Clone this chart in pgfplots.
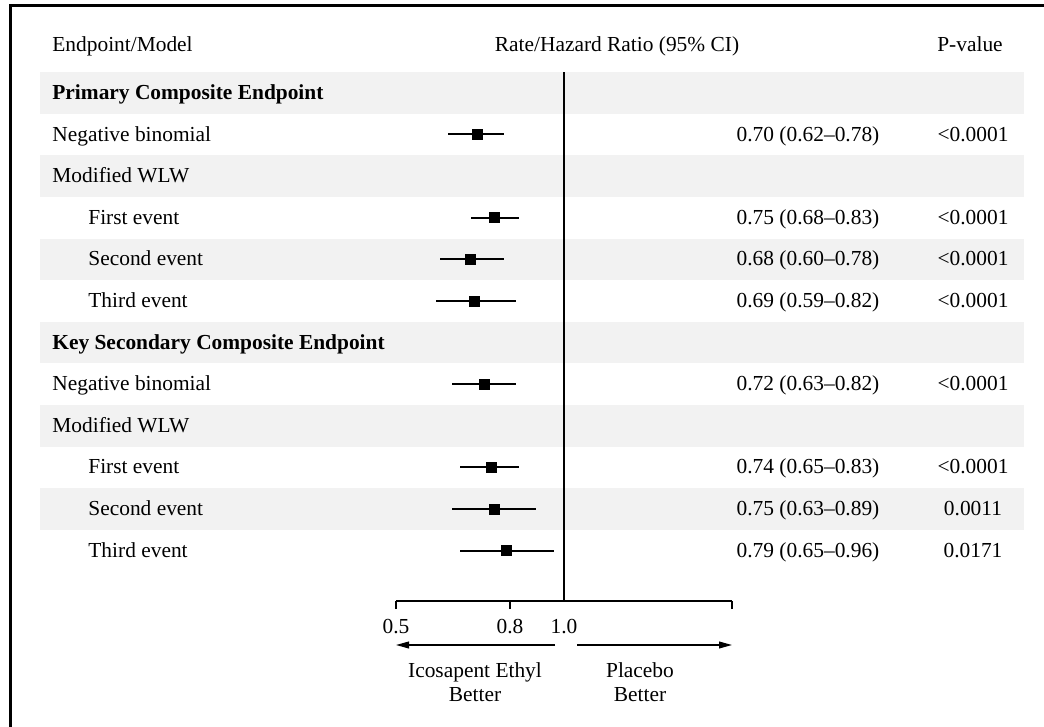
\documentclass[border=0pt]{standalone}
\usepackage{pgfplots}
\pgfplotsset{compat=1.18}
\usepackage{pgfplotstable}
\usepackage{fontspec}
\setmainfont{Liberation Serif}
\usetikzlibrary{arrows.meta}
\definecolor{bandgray}{RGB}{242,242,242}

\pgfplotstableread{
row est lo hi
2 0.70 0.62 0.78
4 0.75 0.68 0.83
5 0.68 0.60 0.78
6 0.69 0.59 0.82
8 0.72 0.63 0.82
10 0.74 0.65 0.83
11 0.75 0.63 0.89
12 0.79 0.65 0.96
}\forestdata

\begin{document}
\begin{tikzpicture}[font=\fontsize{10.7}{13}\selectfont]
\begin{scope}[x=0.5pt,y=-0.5pt]
\useasboundingbox (0,0) rectangle (1044,727);
\foreach \k in {1,3,5,7,9,11}
  \fill[bandgray] (40,{72.2+(\k-1)*41.6}) rectangle (1024,{72.2+\k*41.6});
\draw[line width=1.5pt] (10,730) -- (10,6) -- (1050,6);
% header
\node[anchor=base west,inner sep=0pt] at (52,52) {Endpoint/Model};
\node[anchor=base,inner sep=0pt] at (617,52) {Rate/Hazard Ratio (95\% CI)};
\node[anchor=base,inner sep=0pt] at (970,52) {P-value};
% row labels
\node[anchor=base west,inner sep=0pt] at (52,99.5) {\textbf{Primary Composite Endpoint}};
\node[anchor=base west,inner sep=0pt] at (52,141.1) {Negative binomial};
\node[anchor=base west,inner sep=0pt] at (52,182.7) {Modified WLW};
\node[anchor=base west,inner sep=0pt] at (88,224.3) {First event};
\node[anchor=base west,inner sep=0pt] at (88,265.9) {Second event};
\node[anchor=base west,inner sep=0pt] at (88,307.5) {Third event};
\node[anchor=base west,inner sep=0pt] at (52,349.1) {\textbf{Key Secondary Composite Endpoint}};
\node[anchor=base west,inner sep=0pt] at (52,390.7) {Negative binomial};
\node[anchor=base west,inner sep=0pt] at (52,432.3) {Modified WLW};
\node[anchor=base west,inner sep=0pt] at (88,473.9) {First event};
\node[anchor=base west,inner sep=0pt] at (88,515.5) {Second event};
\node[anchor=base west,inner sep=0pt] at (88,557.1) {Third event};
% estimates
\node[anchor=base,inner sep=0pt] at (808,141.1) {0.70 (0.62–0.78)};
\node[anchor=base,inner sep=0pt] at (808,224.3) {0.75 (0.68–0.83)};
\node[anchor=base,inner sep=0pt] at (808,265.9) {0.68 (0.60–0.78)};
\node[anchor=base,inner sep=0pt] at (808,307.5) {0.69 (0.59–0.82)};
\node[anchor=base,inner sep=0pt] at (808,390.7) {0.72 (0.63–0.82)};
\node[anchor=base,inner sep=0pt] at (808,473.9) {0.74 (0.65–0.83)};
\node[anchor=base,inner sep=0pt] at (808,515.5) {0.75 (0.63–0.89)};
\node[anchor=base,inner sep=0pt] at (808,557.1) {0.79 (0.65–0.96)};
% p-values
\node[anchor=base,inner sep=0pt] at (973,141.1) {<0.0001};
\node[anchor=base,inner sep=0pt] at (973,224.3) {<0.0001};
\node[anchor=base,inner sep=0pt] at (973,265.9) {<0.0001};
\node[anchor=base,inner sep=0pt] at (973,307.5) {<0.0001};
\node[anchor=base,inner sep=0pt] at (973,390.7) {<0.0001};
\node[anchor=base,inner sep=0pt] at (973,473.9) {<0.0001};
\node[anchor=base,inner sep=0pt] at (973,515.5) {0.0011};
\node[anchor=base,inner sep=0pt] at (973,557.1) {0.0171};
% arrows and direction labels
\draw[line width=0.7pt,-{Triangle[length=6.5pt,width=3.4pt]}] (555,645) -- (396,645);
\draw[line width=0.7pt,-{Triangle[length=6.5pt,width=3.4pt]}] (577,645) -- (732,645);
\node[anchor=base,inner sep=0pt] at (475,677) {Icosapent Ethyl};
\node[anchor=base,inner sep=0pt] at (475,701) {Better};
\node[anchor=base,inner sep=0pt] at (640,677) {Placebo};
\node[anchor=base,inner sep=0pt] at (640,701) {Better};
\end{scope}

\begin{axis}[
  at={(198pt,-300.5pt)}, anchor=south west,
  width=168pt, height=264.5pt, scale only axis,
  xmode=log, xmin=0.5, xmax=2,
  ymin=0.5, ymax=13.21, y dir=reverse,
  axis x line=bottom, axis y line=none,
  x axis line style={-, line width=0.75pt},
  xtick={0.5,0.8,2}, xticklabels={0.5,0.8,{}},
  extra x ticks={1}, extra x tick labels={1.0},
  extra x tick style={tick style={draw=none}},
  tick align=outside, major tick length=4pt,
  tick style={line width=0.75pt, black},
  xticklabel style={font=\fontsize{10.7}{13}\selectfont, yshift=-1.5pt},
  minor tick num=0,
  clip=false,
]
\addplot[black, line width=0.75pt] coordinates {(1,0.5) (1,13.21)};
\addplot[black, only marks, mark=square*, mark size=2.5pt,
  error bars/.cd, x dir=both, x explicit, error mark=none,
  error bar style={line width=1pt, black}]
  table[x=est, y=row,
    x error plus expr=\thisrow{hi}-\thisrow{est},
    x error minus expr=\thisrow{est}-\thisrow{lo}] {\forestdata};
\end{axis}
\end{tikzpicture}
\end{document}
